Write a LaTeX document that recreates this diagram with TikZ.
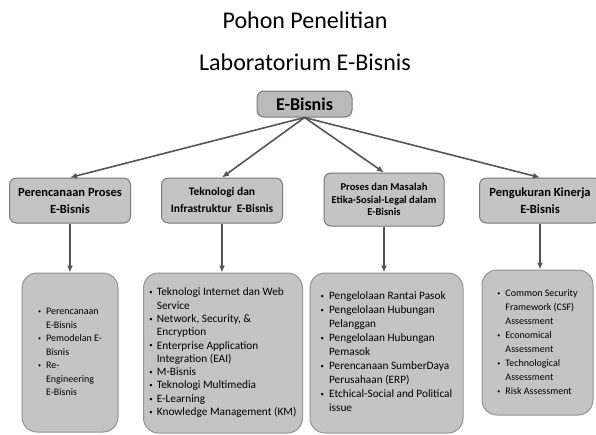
\documentclass[tikz,border=0pt]{standalone}
\usepackage{fontspec}
\setmainfont{Carlito}
\usepackage{graphicx}
\usetikzlibrary{arrows.meta}

\definecolor{isi}{RGB}{196,196,196}
\definecolor{tepi}{RGB}{120,120,120}
\definecolor{garis}{RGB}{85,85,85}

\newcommand{\titik}{\raisebox{0.2ex}{\scalebox{0.6}{\textbullet}}}

\tikzset{
  kotak/.style={draw=tepi, fill=isi, line width=1pt, rounded corners=7pt,
    align=center, font=\bfseries, inner sep=2pt},
  rincian/.style={draw=tepi!80, fill=isi, line width=1pt, rounded corners=15pt,
    inner sep=2pt},
  panah/.style={draw=garis, line width=1.6pt, -{Latex[length=7pt,width=6pt]}}
}

\begin{document}
\begin{tikzpicture}[x=1pt,y=-1pt]
                \useasboundingbox (0,0) rectangle (596,434);

                \node (judul1) at (305,20) {\fontsize{24}{28}\selectfont Pohon Penelitian};
                \node (judul2) at (305,62) {\fontsize{24}{28}\selectfont Laboratorium E-Bisnis};

                \node[kotak, minimum width=95pt, minimum height=26pt, fill=isi!95!black, font=\fontsize{18}{20}\selectfont\bfseries] (akar) at (304.5,104) {E-Bisnis};

                % tingkat kedua
                \node[kotak, minimum width=121pt, minimum height=45pt, font=\fontsize{12.5}{17}\selectfont\bfseries] (n1) at (70,200.5) {Perencanaan Proses\\E-Bisnis};
                \node[kotak, minimum width=121pt, minimum height=45pt, font=\fontsize{11.5}{17}\selectfont\bfseries] (n2) at (222,200.5) {Teknologi dan\\Infrastruktur~ E-Bisnis};
                \node[kotak, minimum width=120pt, minimum height=53pt, font=\fontsize{10.5}{12.5}\selectfont\bfseries] (n3) at (384,199.5) {Proses dan Masalah\\Etika-Sosial-Legal dalam\\E-Bisnis};
                \node[kotak, minimum width=121pt, minimum height=45pt, font=\fontsize{12.5}{17}\selectfont\bfseries] (n4) at (540,200.5) {Pengukuran Kinerja\\E-Bisnis};

                \draw[panah] (akar.south) -- (n1.north);
                \draw[panah] (akar.south) -- (n2.north);
                \draw[panah] (akar.south) -- (n3.north);
                \draw[panah] (akar.south) -- (n4.north);

                % tingkat ketiga
                \node[rincian, minimum width=96pt, minimum height=159pt, font=\fontsize{10}{13.5}\selectfont] (d1) at (70,352.5) {%
                  \begin{tabular}{@{}c@{\hspace{5pt}}l@{}}
                  \titik & Perencanaan\\ & E-Bisnis\\
                  \titik & Pemodelan E-\\ & Bisnis\\
                  \titik & Re-\\ & Engineering\\ & E-Bisnis
                  \end{tabular}};
                \node[rincian, minimum width=159pt, minimum height=160pt, font=\fontsize{11.3}{13.3}\selectfont] (d2) at (223,353) {%
                  \begin{tabular}{@{}c@{\hspace{4pt}}l@{}}
                  \titik & Teknologi Internet dan Web\\ & Service\\
                  \titik & Network, Security, \&\\ & Encryption\\
                  \titik & Enterprise Application\\ & Integration (EAI)\\
                  \titik & M-Bisnis\\
                  \titik & Teknologi Multimedia\\
                  \titik & E-Learning\\
                  \titik & Knowledge Management (KM)
                  \end{tabular}};
                \node[rincian, minimum width=153pt, minimum height=160pt, font=\fontsize{11.3}{14}\selectfont] (d3) at (386.5,353) {%
                  \begin{tabular}{@{}c@{\hspace{5pt}}l@{}}
                  \titik & Pengelolaan Rantai Pasok\\
                  \titik & Pengelolaan Hubungan\\ & Pelanggan\\
                  \titik & Pengelolaan Hubungan\\ & Pemasok\\
                  \titik & Perencanaan SumberDaya\\ & Perusahaan (ERP)\\
                  \titik & Etchical-Social and Political\\ & issue
                  \end{tabular}};
                \node[rincian, minimum width=111pt, minimum height=145pt, font=\fontsize{10}{14}\selectfont] (d4) at (537.5,342.5) {%
                  \begin{tabular}{@{}c@{\hspace{5pt}}l@{}}
                  \titik & Common Security\\ & Framework (CSF)\\ & Assessment\\
                  \titik & Economical\\ & Assessment\\
                  \titik & Technological\\ & Assessment\\
                  \titik & Risk Assessment
                  \end{tabular}};

                \draw[panah] (n1.south) -- (n1.south |- d1.north);
                \draw[panah] (n2.south) -- (n2.south |- d2.north);
                \draw[panah] (n3.south) -- (n3.south |- d3.north);
                \draw[panah] (n4.south) -- (n4.south |- d4.north);
            \end{tikzpicture}
\end{document}
